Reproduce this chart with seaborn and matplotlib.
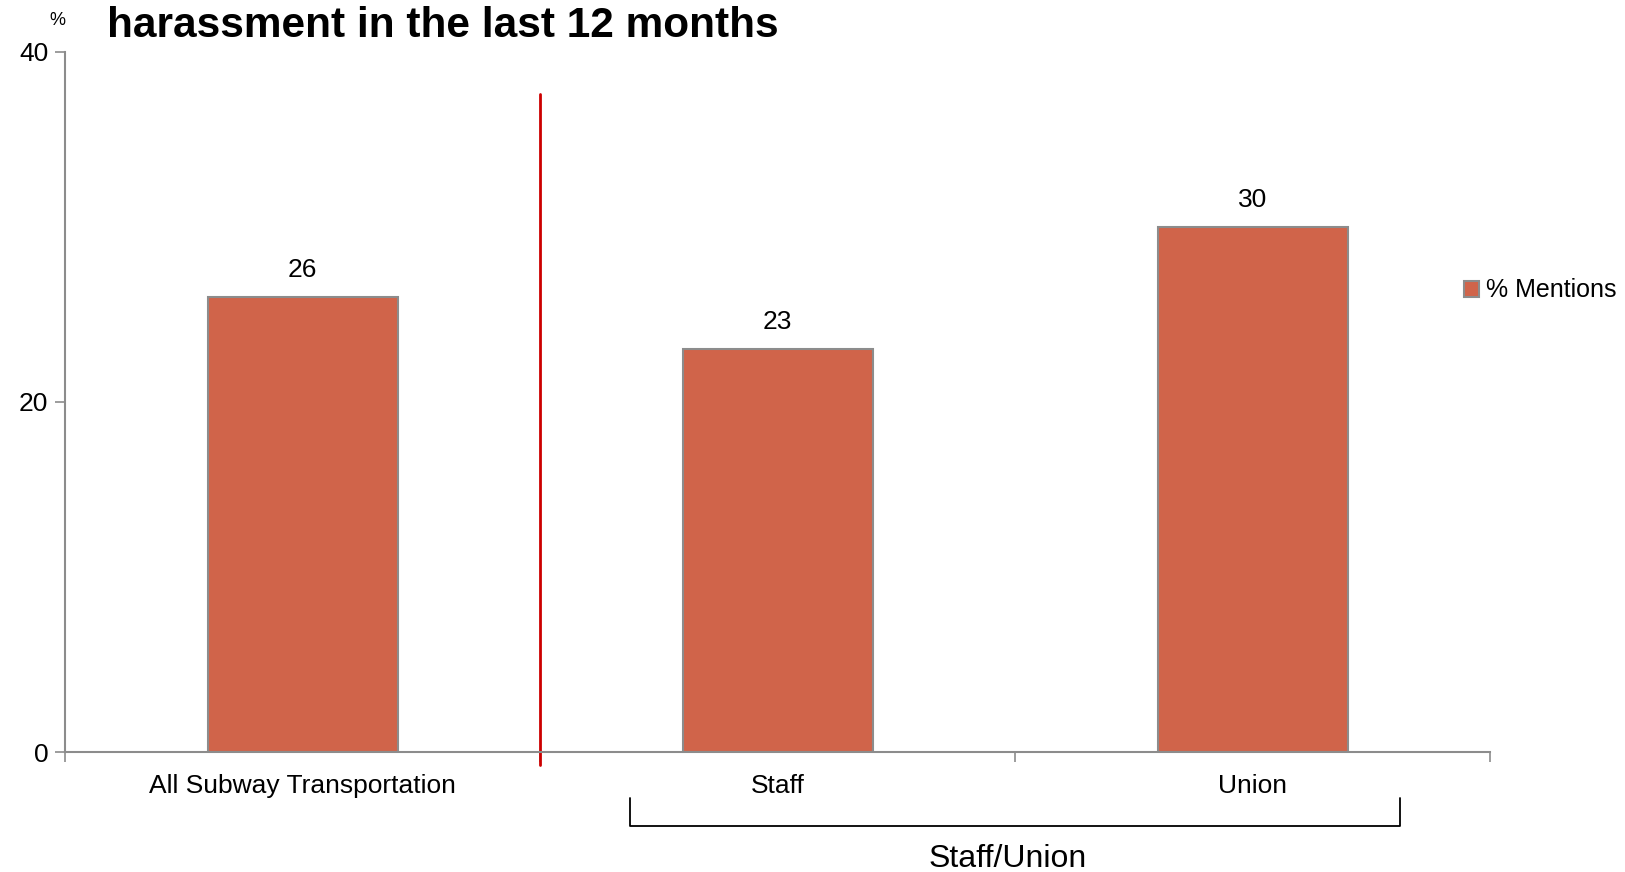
import matplotlib
matplotlib.use("Agg")
import matplotlib.pyplot as plt
import seaborn as sns
import pandas as pd
from matplotlib.patches import Patch

categories = ["All Subway Transportation", "Staff", "Union"]
mentions = [26, 23, 30]
series_name = "% Mentions"
group_label = "Staff/Union"
title = "harassment in the last 12 months"
y_ticks = [0, 20, 40]

df = pd.DataFrame({"category": categories, "value": mentions})

sns.set_theme(style="white")
plt.rcParams["font.family"] = ["Liberation Sans", "DejaVu Sans"]
plt.rcParams["text.color"] = "black"
plt.rcParams["xtick.color"] = "black"
plt.rcParams["ytick.color"] = "black"

bar_color = "#D0644A"
edge_color = "#8C8C8C"
axis_color = "#8C8C8C"

fig = plt.figure(figsize=(16.25, 8.72), dpi=100)
ax = fig.add_axes([0.040, 0.1376, 0.877, 0.8028])

sns.barplot(data=df, x="category", y="value", color=bar_color, width=0.4,
            edgecolor=edge_color, linewidth=1.5, saturation=1, ax=ax)

ax.set_xlim(-0.5, 2.5)
ax.set_ylim(0, 40)
ax.set_yticks(y_ticks)
ax.set_yticklabels([str(t) for t in y_ticks], fontsize=19)
ax.set_xlabel("")
ax.set_ylabel("")

# category labels sit between boundary ticks
ax.set_xticks([-0.5, 0.5, 1.5, 2.5])
ax.set_xticklabels([])
ax.tick_params(axis="x", which="major", length=7, width=1.2, color=axis_color, direction="out", bottom=True)
ax.tick_params(axis="y", which="major", length=7, width=1.2, color=axis_color, direction="out", left=True, pad=5)
for i, c in enumerate(categories):
    ax.text(i, -0.032, c, transform=ax.get_xaxis_transform(), ha="center", va="top", fontsize=19)

for side in ["top", "right"]:
    ax.spines[side].set_visible(False)
for side in ["left", "bottom"]:
    ax.spines[side].set_color(axis_color)
    ax.spines[side].set_linewidth(1.5)

# value labels
for i, v in enumerate(mentions):
    ax.annotate(f"{v}", (i, v), xytext=(0, 19.5), textcoords="offset points",
                ha="center", va="center", fontsize=19)

# divider between total and breakdown
ax.plot([0.5, 0.5], [-0.0186, 0.94], transform=ax.get_xaxis_transform(),
        color="#CC0000", linewidth=2, clip_on=False)

# bracket grouping the breakdown
bt = ax.get_xaxis_transform()
x0, x1 = 0.69, 2.31
ytop, ybot = -0.066, -0.106
ax.plot([x0, x0, x1, x1], [ytop, ybot, ybot, ytop], transform=bt,
        color="black", linewidth=1.3, clip_on=False, solid_joinstyle="round")
ax.text(1.485, -0.131, group_label, transform=bt, ha="center", va="top", fontsize=23)

# title and unit
fig.text(0.066, 0.970, title, ha="left", va="center", fontsize=30.5, fontweight="bold")
fig.text(0.035, 0.976, "%", ha="center", va="center", fontsize=13)

handle = Patch(facecolor=bar_color, edgecolor=edge_color, linewidth=1.5)
fig.legend([handle], [series_name], loc="center left", bbox_to_anchor=(0.8935, 0.667),
           frameon=False, fontsize=18, handlelength=0.6, handleheight=0.6,
           handletextpad=0.25, borderpad=0)

fig.savefig("out.png", dpi=100)
